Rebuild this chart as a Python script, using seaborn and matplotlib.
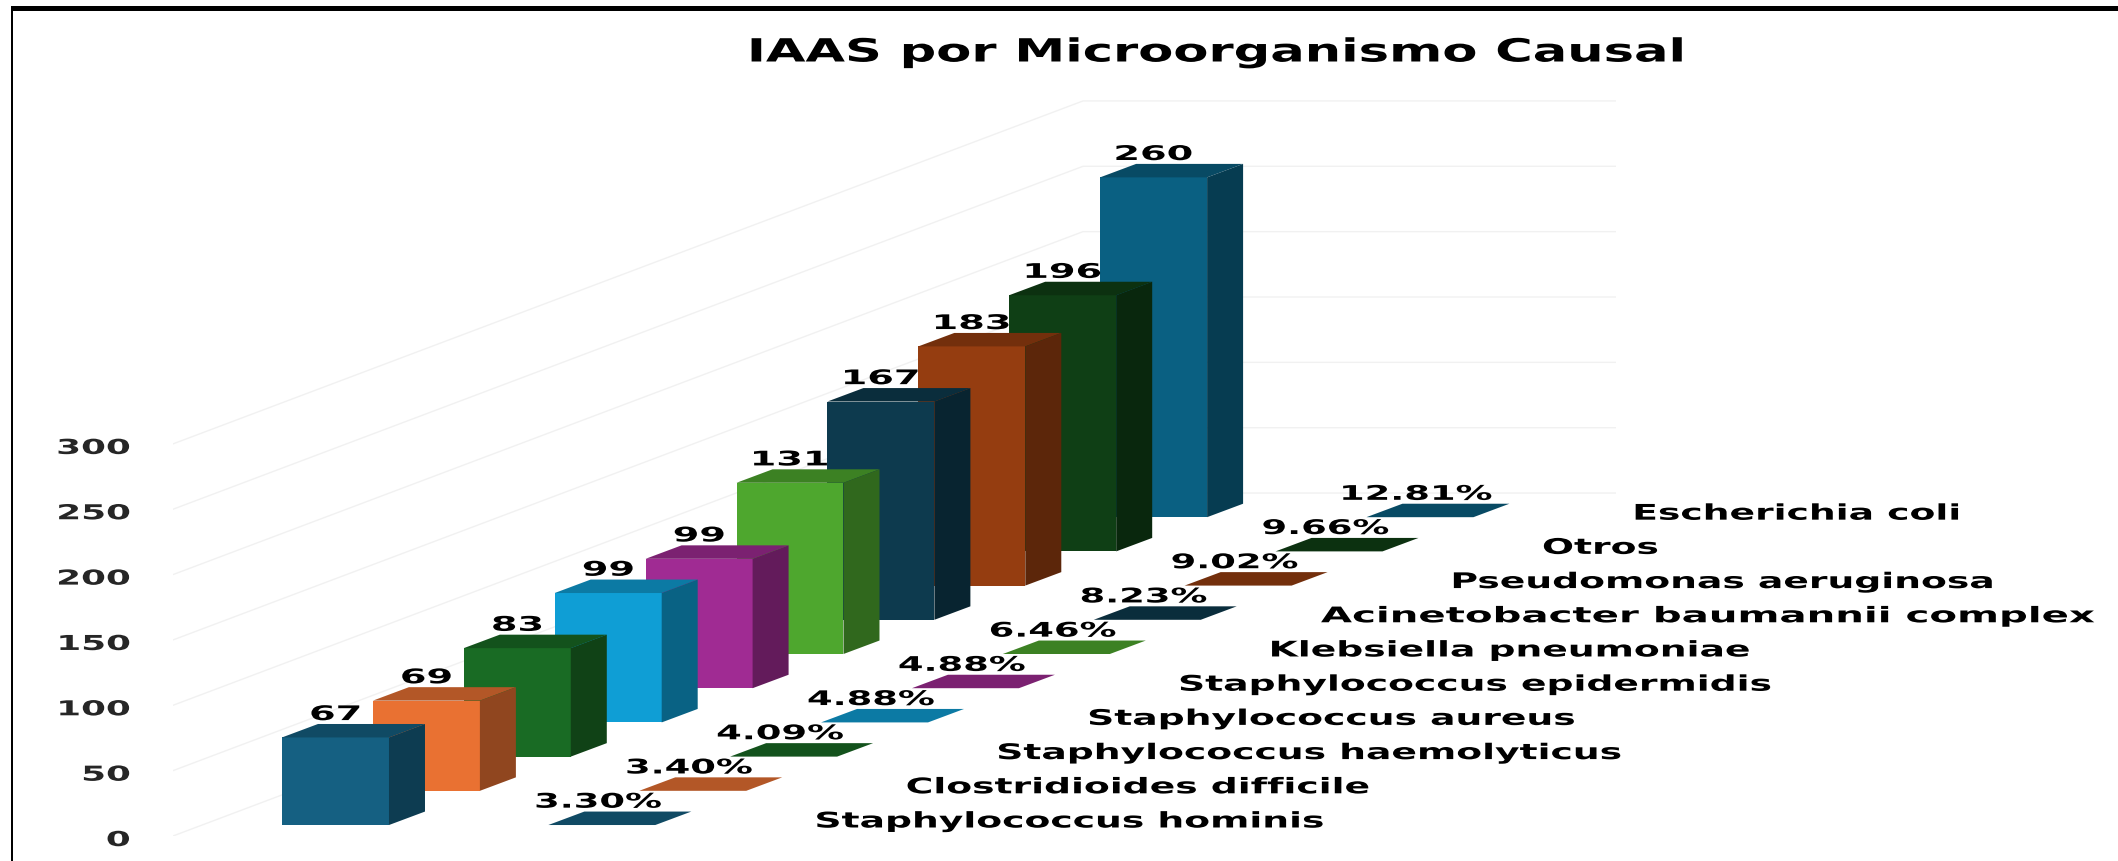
import matplotlib
matplotlib.use('Agg')
import matplotlib.pyplot as plt
import seaborn as sns
from matplotlib.patches import Polygon, Rectangle
from matplotlib.patheffects import AbstractPathEffect
from matplotlib.transforms import Affine2D
from matplotlib.colors import to_rgb

categorias = ['Staphylococcus hominis', 'Clostridioides difficile', 'Staphylococcus haemolyticus',
              'Staphylococcus aureus', 'Staphylococcus epidermidis', 'Klebsiella pneumoniae',
              'Acinetobacter baumannii complex', 'Pseudomonas aeruginosa', 'Otros', 'Escherichia coli']
casos = [67, 69, 83, 99, 99, 131, 167, 183, 196, 260]
porcentajes = ['3.30%', '3.40%', '4.09%', '4.88%', '4.88%', '6.46%', '8.23%', '9.02%', '9.66%', '12.81%']
colores = ['#156082', '#E97132', '#196B24', '#0F9ED5', '#A02B93',
           '#4EA72E', '#0D3A4E', '#953D10', '#0F3F15', '#0A6082']
ticks_y = [0, 50, 100, 150, 200, 250, 300]


# el original esta estirado a lo ancho, esto estira el texto sin perderlo como texto
class Estirar(AbstractPathEffect):
    def __init__(self, sx, ancla='center', bajar=0):
        super().__init__()
        self.sx = sx
        self.ancla = ancla
        self.bajar = bajar

    def draw_path(self, renderer, gc, tpath, affine, rgbFace=None):
        e = tpath.get_extents()
        x0 = {'left': e.x0, 'center': (e.x0 + e.x1) / 2, 'right': e.x1}[self.ancla]
        t = Affine2D().translate(-x0, 0).scale(self.sx, 1).translate(x0, 0)
        renderer.draw_path(gc, tpath, t + affine + Affine2D().translate(0, -self.bajar), rgbFace)


def tono(color, f):
    return tuple(c * f for c in to_rgb(color))


sns.set_style('white')
plt.rcParams['font.family'] = 'DejaVu Sans'
W, H = 2118, 862
fig = plt.figure(figsize=(W / 100, H / 100), dpi=100)

# pixeles por unidad en cada eje
px_cat = 90.9
px_val = 1.307
izq, der, base = 173, 1616, 837
y_max = 620
ax = fig.add_axes([izq / W, 1 - base / H, (der - izq) / W, y_max * px_val / H])
centro0 = 335.5

# perspectiva: cada barra sube y se corre un poco
piso0 = 8.4
paso_piso = 26.17
dx = 0.396
dy = 10.3
ancho = 1.177
corrimiento = 2.93

# paredes
x_ini = (izq - centro0) / px_cat
x_fin = (der - centro0) / px_cat
x_fondo = (1083 - centro0) / px_cat
for t in ticks_y:
    ax.plot([x_ini, x_fondo, x_fin], [t, t + 262.4, t + 262.4], color='#F1F1F1', lw=1, zorder=1)


def cara_superior(x0, x1, y, color, z):
    ax.add_patch(Polygon([(x0, y), (x1, y), (x1 + dx, y + dy), (x0 + dx, y + dy)],
                         closed=True, fc=color, ec='none', zorder=z))


for i in range(len(casos) - 1, -1, -1):
    piso = piso0 + paso_piso * i
    z = 10 + (len(casos) - i) * 2
    sns.barplot(x=[i], y=[casos[i]], native_scale=True, width=ancho, color=colores[i],
                saturation=1, bottom=piso, ax=ax, zorder=z, linewidth=0, edgecolor='none')
    b = ax.patches[-1]
    x0, x1 = b.get_x(), b.get_x() + b.get_width()
    techo = piso + b.get_height()
    cara_superior(x0, x1, techo, tono(colores[i], 0.77), z)
    ax.add_patch(Polygon([(x1, piso), (x1 + dx, piso + dy), (x1 + dx, techo + dy), (x1, techo)],
                         closed=True, fc=tono(colores[i], 0.62), ec='none', zorder=z))
    ax.text(i, techo + 17.5, str(casos[i]), ha='center', va='center', fontsize=14.5, fontweight='bold',
            color='black', zorder=60, path_effects=[Estirar(1.9)])

    # etiqueta de porcentaje sobre una barra plana
    cara_superior(x0 + corrimiento, x1 + corrimiento, piso, tono(colores[i], 0.77), 5)
    ax.text(i + corrimiento - 0.04, piso + 17.5, porcentajes[i], ha='center', va='center', fontsize=14.5,
            fontweight='bold', color='black', zorder=60, path_effects=[Estirar(1.83)])

    # Acinetobacter sale mas ancha y corrida en el original
    x_txt = x0 + 5.87
    sx = 1.75
    if categorias[i].startswith('Acinetobacter'):
        x_txt -= 0.44
        sx = 1.87
    ax.text(x_txt, piso + 2.7, categorias[i], ha='left', va='center', fontsize=15.5,
            fontweight='bold', color='black', zorder=60, path_effects=[Estirar(sx, 'left')])

ax.set_xlim(x_ini, x_fin)
ax.set_ylim(0, y_max)
ax.set_xticks([])
ax.set_yticks(ticks_y)
ax.set(xlabel='', ylabel='')
ax.tick_params(axis='y', length=0, pad=31)
for t in ax.get_yticklabels():
    t.set_fontsize(14.8)
    t.set_fontweight('bold')
    t.set_path_effects([Estirar(1.74, 'right', 2)])
sns.despine(ax=ax, left=True, bottom=True)
ax.patch.set_alpha(0)

fig.text(1217 / W, 1 - 54 / H, 'IAAS por Microorganismo Causal', ha='center', va='center',
         fontsize=23, fontweight='bold', color='black', path_effects=[Estirar(1.6)])

# marco
fig.add_artist(Rectangle((11 / W, 0), 2 / W, 1 - 7 / H, transform=fig.transFigure, fc='black', ec='none'))
fig.add_artist(Rectangle((11 / W, 1 - 12 / H), 1 - 11 / W, 5 / H, transform=fig.transFigure, fc='black', ec='none'))

fig.savefig('out.png', dpi=100)
